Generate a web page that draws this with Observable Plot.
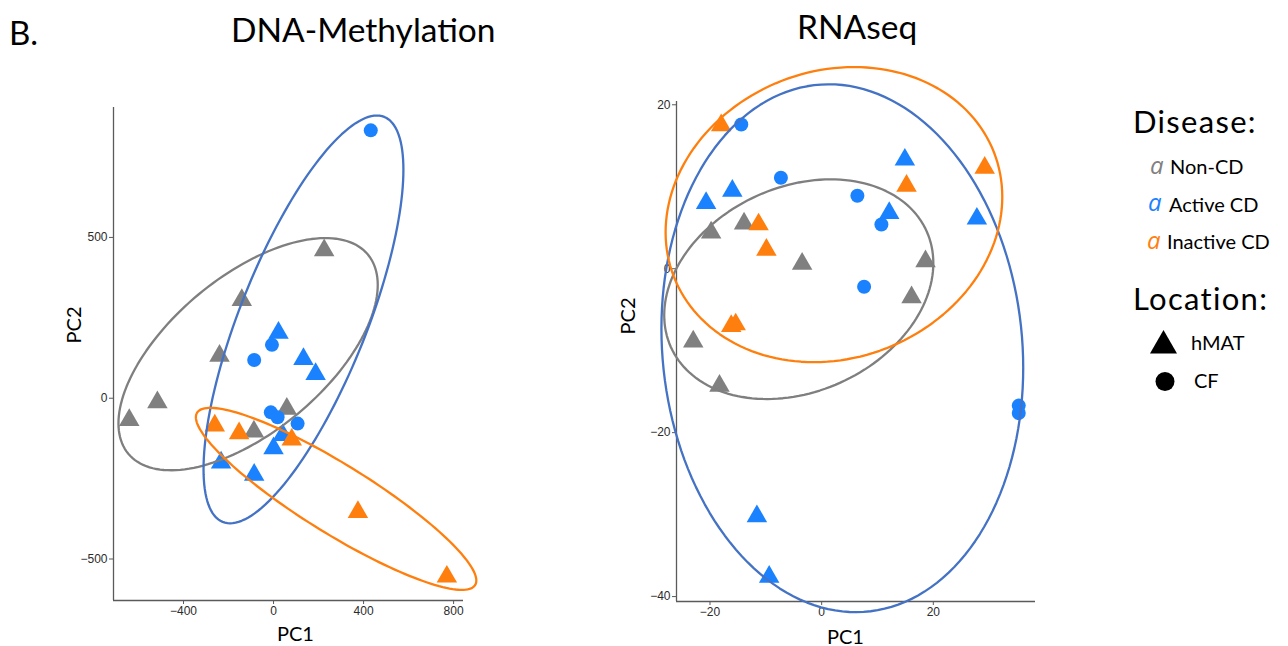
<!DOCTYPE html>
<html>
<head>
<meta charset="utf-8">
<script src="https://cdn.jsdelivr.net/npm/d3@7"></script>
<script src="https://cdn.jsdelivr.net/npm/@observablehq/plot@0.6"></script>
<style>
  html, body { margin: 0; padding: 0; background: #fff; }
  #root { position: relative; width: 1288px; height: 646px; overflow: hidden; font-family: Lato, "Open Sans", sans-serif; color: #000; }
  .abs { position: absolute; white-space: nowrap; line-height: 1; }
  .panel { position: absolute; }
</style>
</head>
<body>
<div id="root"></div>
<script>
// ---------------- DATA ----------------
const diseases = ["Non-CD", "Active CD", "Inactive CD"];
const locations = ["hMAT", "CF"];

// DNA-Methylation PCA
const methDisease  = ["Non-CD","Non-CD","Non-CD","Non-CD","Non-CD","Non-CD","Non-CD",
                      "Active CD","Active CD","Active CD","Active CD","Active CD","Active CD",
                      "Active CD","Active CD","Active CD","Active CD","Active CD","Active CD","Active CD",
                      "Inactive CD","Inactive CD","Inactive CD","Inactive CD","Inactive CD"];
const methLocation = ["hMAT","hMAT","hMAT","hMAT","hMAT","hMAT","hMAT",
                      "CF","CF","CF","CF","CF","CF",
                      "hMAT","hMAT","hMAT","hMAT","hMAT","hMAT","hMAT",
                      "hMAT","hMAT","hMAT","hMAT","hMAT"];
const methPC1 = [225, -141, -240, -516, -641, 59, -87,
                 432, -7, -86, -12, 18, 107,
                 22, 133, 187, 41, 0, -233, -86,
                 -261, -153, 81, 375, 770];
const methPC2 = [460, 305, 132, -13, -68, -33, -104,
                 833, 166, 119, -44, -59, -79,
                 203, 122, 75, -115, -156, -200, -238,
                 -85, -109, -129, -354, -555];
const methXTicks = [-400, 0, 400, 800];
const methYTicks = [-500, 0, 500];

// RNAseq PCA
const rnaDisease  = ["Non-CD","Non-CD","Non-CD","Non-CD","Non-CD","Non-CD","Non-CD",
                     "Active CD","Active CD","Active CD","Active CD","Active CD","Active CD","Active CD",
                     "Active CD","Active CD","Active CD","Active CD","Active CD","Active CD","Active CD",
                     "Inactive CD","Inactive CD","Inactive CD","Inactive CD","Inactive CD","Inactive CD","Inactive CD"];
const rnaLocation = ["hMAT","hMAT","hMAT","hMAT","hMAT","hMAT","hMAT",
                     "CF","CF","CF","CF","CF","CF","CF",
                     "hMAT","hMAT","hMAT","hMAT","hMAT","hMAT","hMAT",
                     "hMAT","hMAT","hMAT","hMAT","hMAT","hMAT","hMAT"];
const rnaPC1 = [-13.9, -19.8, -3.5, 18.6, 16.1, -23.0, -18.3,
                -14.4, -7.3, 6.4, 10.7, 7.6, 35.3, 35.3,
                14.9, -16.0, -20.7, 12.1, 27.8, -11.6, -9.4,
                -18.0, 29.2, 15.2, -11.3, -9.9, -16.2, -15.4];
const rnaPC2 = [5.5, 4.4, 0.6, 0.9, -3.5, -8.9, -14.3,
                17.6, 11.1, 8.9, 5.4, -2.2, -16.7, -17.6,
                13.3, 9.5, 8.0, 6.8, 6.1, -30.2, -37.6,
                17.5, 12.3, 10.1, 5.4, 2.3, -7.0, -6.8];
const rnaXTicks = [-20, 0, 20];
const rnaYTicks = [-40, -20, 0, 20];

// 95% ellipses: centre, half-width, half-height, correlation
const ellDisease = ["Non-CD", "Active CD", "Inactive CD"];
const methEllCx = [-113, 133, 278];
const methEllCy = [137, 245, -313];
const methEllHx = [576, 444, 623];
const methEllHy = [361, 634, 283];
const methEllRho = [0.596, 0.734, -0.897];
const rnaEllCx = [-4.1, 3.7, 2.2];
const rnaEllCy = [-2.5, -9.7, 6.6];
const rnaEllHx = [24.1, 32.4, 30.15];
const rnaEllHy = [13.4, 32.2, 18.0];
const rnaEllRho = [0.237, -0.074, 0.12];

// ---------------- STYLE ----------------
const pointColors = ["#808080", "#1a82ff", "#ff7f0e"];
const ellipseColors = ["#7f7f7f", "#4472c4", "#ff7f0e"];

function rows(pc1, pc2, dis, loc) {
  return pc1.map((v, i) => ({pc1: v, pc2: pc2[i], disease: dis[i], location: loc[i]}));
}
function ellipseRows(cx, cy, hx, hy, rho) {
  const out = [];
  const N = 160;
  ellDisease.forEach((d, k) => {
    const phi = Math.acos(rho[k]);
    for (let i = 0; i <= N; i++) {
      const t = (i / N) * 2 * Math.PI;
      out.push({disease: d, pc1: cx[k] + hx[k] * Math.cos(t), pc2: cy[k] + hy[k] * Math.cos(t - phi)});
    }
  });
  return out;
}

function panel(opts) {
  const pts = opts.points;
  const ell = opts.ellipses;
  const axisColor = "#5a5a5a";
  return Plot.plot({
    width: opts.width, height: opts.height,
    marginLeft: opts.ml, marginRight: opts.mr, marginTop: opts.mt, marginBottom: opts.mb,
    style: {fontFamily: "'Liberation Sans', Arial, sans-serif", fontSize: "12px", color: "#333", background: "transparent", overflow: "visible"},
    x: {domain: opts.xDomain, label: null},
    y: {domain: opts.yDomain, label: null},
    color: {domain: diseases, range: pointColors},
    marks: [
      Plot.axisX({ticks: opts.xTicks, tickSize: 4, tickPadding: 2, stroke: axisColor, fill: "#2b2b2b", label: null}),
      Plot.axisY({ticks: opts.yTicks, tickSize: 4, tickPadding: 2, stroke: axisColor, fill: "#2b2b2b", label: null}),
      Plot.ruleY([opts.yDomain[0]], {stroke: axisColor, strokeWidth: 1.3}),
      Plot.ruleX([opts.xDomain[0]], {stroke: axisColor, strokeWidth: 1.3}),
      Plot.dot(pts.filter(d => d.location === "hMAT"), {x: "pc1", y: "pc2", fill: "disease", symbol: "triangle", r: 7.6, stroke: "none"}),
      Plot.dot(pts.filter(d => d.location === "CF"), {x: "pc1", y: "pc2", fill: "disease", symbol: "circle", r: 7, stroke: "none"}),
      ...ellDisease.map((d, k) => Plot.line(ell.filter(e => e.disease === d), {x: "pc1", y: "pc2", stroke: ellipseColors[k], strokeWidth: 2.3}))
    ]
  });
}

const root = document.getElementById("root");
function addText(txt, css) {
  const el = document.createElement("div");
  el.className = "abs";
  el.textContent = txt;
  Object.assign(el.style, css);
  root.appendChild(el);
  return el;
}

// Left panel
const left = panel({
  width: 500, height: 580, ml: 113, mr: 37, mt: 47, mb: 40,
  xDomain: [-711, 844], yDomain: [-629, 904],
  xTicks: methXTicks, yTicks: methYTicks,
  points: rows(methPC1, methPC2, methDisease, methLocation),
  ellipses: ellipseRows(methEllCx, methEllCy, methEllHx, methEllHy, methEllRho)
});
left.classList.add("panel");
left.style.left = "0px"; left.style.top = "60px";
root.appendChild(left);

// Right panel
const right = panel({
  width: 500, height: 580, ml: 116, mr: 25, mt: 41, mb: 39,
  xDomain: [-26.0, 38.3], yDomain: [-40.6, 20.4],
  xTicks: rnaXTicks, yTicks: rnaYTicks,
  points: rows(rnaPC1, rnaPC2, rnaDisease, rnaLocation),
  ellipses: ellipseRows(rnaEllCx, rnaEllCy, rnaEllHx, rnaEllHy, rnaEllRho)
});
right.classList.add("panel");
right.style.left = "560px"; right.style.top = "60px";
root.appendChild(right);

// Titles
addText("B.", {left: "9px", top: "16px", fontSize: "33px"});
addText("DNA-Methylation", {left: "231px", top: "13px", fontSize: "33.5px"});
addText("RNAseq", {left: "797px", top: "10px", fontSize: "33.5px"});

// Axis titles
addText("PC1", {left: "277px", top: "622.5px", fontSize: "20px"});
addText("PC1", {left: "827px", top: "625.5px", fontSize: "20px"});
addText("PC2", {left: "72.5px", top: "324.5px", fontSize: "20px", transform: "translate(-50%,-50%) rotate(-90deg)"});
addText("PC2", {left: "626.5px", top: "316px", fontSize: "20px", transform: "translate(-50%,-50%) rotate(-90deg)"});

// Legend
addText("Disease:", {left: "1133px", top: "105.8px", fontSize: "31px", letterSpacing: "1.3px"});
const legendBase = [174, 211.7, 249];
const legendA = [1150, 1148, 1147];
const legendT = [1170, 1169, 1167];
diseases.forEach((d, i) => {
  addText("a", {left: legendA[i] + "px", top: (legendBase[i] - 21.3) + "px", fontSize: "24px", fontStyle: "italic", color: pointColors[i], fontFamily: "'Open Sans', sans-serif"});
  addText(d, {left: legendT[i] + "px", top: (legendBase[i] - 17.7) + "px", fontSize: "20px"});
});
addText("Location:", {left: "1133px", top: "283.2px", fontSize: "31px", letterSpacing: "1.3px"});
const leg = d3.select(root).append("svg")
  .attr("width", 60).attr("height", 80)
  .style("position", "absolute").style("left", "1140px").style("top", "320px");
leg.append("path").attr("d", d3.symbol(d3.symbolTriangle, 316)()).attr("transform", "translate(23.5,25.6)").attr("fill", "#000");
leg.append("circle").attr("cx", 25).attr("cy", 61.5).attr("r", 9.5).attr("fill", "#000");
addText(locations[0], {left: "1191px", top: (350 - 17.7) + "px", fontSize: "20px"});
addText(locations[1], {left: "1194px", top: (388 - 17.7) + "px", fontSize: "20px"});
</script>
</body>
</html>
